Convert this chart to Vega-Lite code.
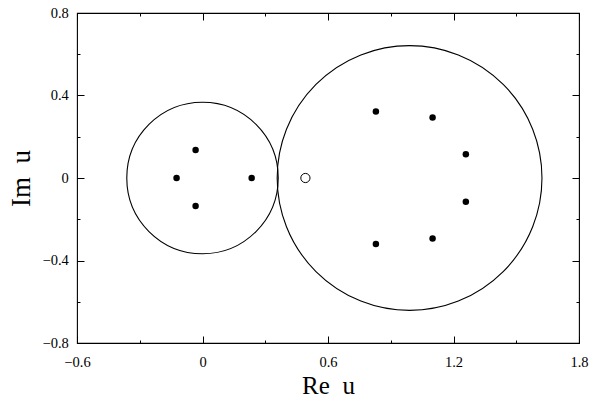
{
  "$schema": "https://vega.github.io/schema/vega-lite/v6.json",
  "width": 502,
  "height": 330,
  "autosize": {"type": "none"},
  "padding": {"left": 77, "top": 13, "right": 10, "bottom": 57},
  "background": "white",
  "config": {
    "view": {"stroke": "black", "strokeWidth": 1.1},
    "axis": {
      "grid": false,
      "domain": false,
      "tickColor": "black",
      "tickWidth": 1,
      "labelColor": "black",
      "labelFont": "Liberation Serif",
      "labelFontSize": 14.5,
      "labelFlush": false,
      "labelOverlap": false,
      "titleFont": "Liberation Serif",
      "titleFontWeight": "normal",
      "titleColor": "black"
    }
  },
  "datasets": {
    "circles": [
      {"cx": 0, "cy": 0, "r": 0.362},
      {"cx": 0.99, "cy": 0, "r": 0.633}
    ],
    "roots": [
      {"re": -0.124, "im": 0},
      {"re": -0.033, "im": 0.136},
      {"re": -0.033, "im": -0.136},
      {"re": 0.235, "im": 0},
      {"re": 0.829, "im": 0.322},
      {"re": 1.1, "im": 0.293},
      {"re": 1.259, "im": 0.115},
      {"re": 1.259, "im": -0.115},
      {"re": 1.1, "im": -0.293},
      {"re": 0.829, "im": -0.32}
    ],
    "pole": [
      {"re": 0.492, "im": 0}
    ]
  },
  "layer": [
    {
      "data": {"name": "circles"},
      "mark": {"type": "point", "shape": "circle", "filled": false, "stroke": "black", "strokeWidth": 1.1, "opacity": 1},
      "encoding": {
        "x": {
          "field": "cx", "type": "quantitative",
          "scale": {"domain": [-0.6, 1.8], "nice": false, "zero": false},
          "axis": {
            "orient": "bottom",
            "values": [-0.6, -0.3, 0, 0.3, 0.6, 0.9, 1.2, 1.5, 1.8],
            "tickSize": {"condition": {"test": "round(datum.value*10) % 6 == 0", "value": -7}, "value": -3},
            "labelPadding": 19.5,
            "labelExpr": "round(datum.value*10) % 6 != 0 ? '' : (datum.value == 0 ? '0' : replace(format(datum.value, '.1f'), '-', '\u2212'))",
            "title": "Re\u2002u",
            "titleFontSize": 25,
            "titlePadding": 0
          }
        },
        "y": {
          "field": "cy", "type": "quantitative",
          "scale": {"domain": [-0.8, 0.8], "nice": false, "zero": false},
          "axis": {
            "orient": "left",
            "values": [-0.8, -0.6, -0.4, -0.2, 0, 0.2, 0.4, 0.6, 0.8],
            "tickSize": {"condition": {"test": "round(datum.value*10) % 4 == 0", "value": -7}, "value": -3},
            "labelPadding": 15.7,
            "labelExpr": "round(datum.value*10) % 4 != 0 ? '' : (datum.value == 0 ? '0' : replace(format(datum.value, '.1f'), '-', '\u2212'))",
            "title": "Im\u2002u",
            "titleFontSize": 27,
            "titlePadding": 6
          }
        },
        "size": {
          "field": "r", "type": "quantitative",
          "scale": {"type": "pow", "exponent": 2, "domain": [0, 1], "range": [0, 175000]},
          "legend": null
        }
      }
    },
    {
      "data": {"name": "roots"},
      "mark": {"type": "point", "shape": "circle", "filled": true, "color": "black", "size": 42, "opacity": 1},
      "encoding": {
        "x": {
          "field": "re", "type": "quantitative",
          "axis": {
            "orient": "top",
            "values": [-0.6, -0.3, 0, 0.3, 0.6, 0.9, 1.2, 1.5, 1.8],
            "tickSize": {"condition": {"test": "round(datum.value*10) % 6 == 0", "value": -7}, "value": -3},
            "labels": false,
            "title": null
          }
        },
        "y": {
          "field": "im", "type": "quantitative",
          "axis": {
            "orient": "right",
            "values": [-0.8, -0.6, -0.4, -0.2, 0, 0.2, 0.4, 0.6, 0.8],
            "tickSize": {"condition": {"test": "round(datum.value*10) % 4 == 0", "value": -7}, "value": -3},
            "labels": false,
            "title": null
          }
        }
      }
    },
    {
      "data": {"name": "pole"},
      "mark": {"type": "point", "shape": "circle", "filled": false, "stroke": "black", "strokeWidth": 1, "size": 85, "opacity": 1},
      "encoding": {
        "x": {"field": "re", "type": "quantitative", "axis": null},
        "y": {"field": "im", "type": "quantitative", "axis": null}
      }
    }
  ],
  "resolve": {"axis": {"x": "independent", "y": "independent"}}
}
